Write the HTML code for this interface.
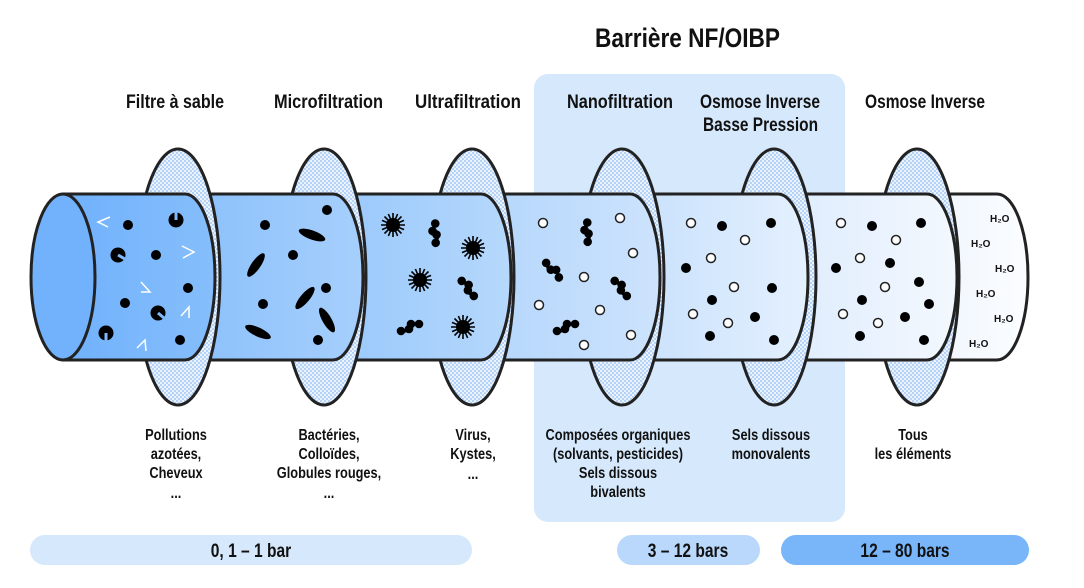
<!DOCTYPE html>
<html><head><meta charset="utf-8"><style>
html,body{margin:0;padding:0;background:#fff;}
svg{display:block;}
text{font-family:"Liberation Sans Narrow","Liberation Sans",sans-serif;font-weight:bold;fill:#111;}
</style></head><body>
<svg width="1084" height="588" viewBox="0 0 1084 588" xmlns="http://www.w3.org/2000/svg">
<defs>
<pattern id="dots" width="4" height="4" patternUnits="userSpaceOnUse">
<rect width="4" height="4" fill="#eaf2fd"/><circle cx="1" cy="1" r="0.9" fill="#8fbcf3"/><circle cx="3" cy="3" r="0.9" fill="#8fbcf3"/>
</pattern>
<linearGradient id="g1"><stop offset="0" stop-color="#70b1fc"/><stop offset="1" stop-color="#86befb"/></linearGradient>
<linearGradient id="g2"><stop offset="0" stop-color="#88bffb"/><stop offset="1" stop-color="#a6cffc"/></linearGradient>
<linearGradient id="g3"><stop offset="0" stop-color="#96c7fb"/><stop offset="1" stop-color="#b6d8fc"/></linearGradient>
<linearGradient id="g4"><stop offset="0" stop-color="#b2d5fc"/><stop offset="1" stop-color="#cde3fd"/></linearGradient>
<linearGradient id="g5"><stop offset="0" stop-color="#c6e0fc"/><stop offset="1" stop-color="#e4f0fe"/></linearGradient>
<linearGradient id="g6"><stop offset="0" stop-color="#dcebfd"/><stop offset="1" stop-color="#f3f8fe"/></linearGradient>
<linearGradient id="g7"><stop offset="0" stop-color="#eef5fe"/><stop offset="1" stop-color="#fbfdff"/></linearGradient>
<g id="virus" stroke="#000" stroke-width="1.6">
<circle r="7" fill="#000" stroke="none"/>
<line x1="0" y1="-12" x2="0" y2="12"/><line x1="-12" y1="0" x2="12" y2="0"/>
<line x1="-8.5" y1="-8.5" x2="8.5" y2="8.5"/><line x1="-8.5" y1="8.5" x2="8.5" y2="-8.5"/>
<line x1="-4.6" y1="-11" x2="4.6" y2="11"/><line x1="-11" y1="-4.6" x2="11" y2="4.6"/>
<line x1="-4.6" y1="11" x2="4.6" y2="-11"/><line x1="-11" y1="4.6" x2="11" y2="-4.6"/>
</g>
<g id="mol" fill="#000"><path d="M-9,4 L-3,4 L3,-3 L9,-3" stroke="#000" stroke-width="3" fill="none"/><circle cx="-9" cy="4" r="4.3"/><circle cx="-1" cy="2" r="4.3"/><circle cx="1" cy="-3" r="4.3"/><circle cx="9" cy="-3" r="4.3"/></g>
<g id="pac"><circle r="7.5" fill="#000"/><path d="M0,0 L0,7.6" stroke="#80b9fb" stroke-width="3"/></g>
</defs>

<rect x="534" y="74" width="311" height="448" rx="14" fill="#d6e8fc"/>

<text x="595" y="47" font-size="27" textLength="185" lengthAdjust="spacingAndGlyphs">Barrière NF/OIBP</text>

<g font-size="19">
<text x="126" y="108" textLength="98" lengthAdjust="spacingAndGlyphs">Filtre à sable</text>
<text x="274" y="108" textLength="109" lengthAdjust="spacingAndGlyphs">Microfiltration</text>
<text x="415" y="108" textLength="106" lengthAdjust="spacingAndGlyphs">Ultrafiltration</text>
<text x="567" y="108" textLength="106" lengthAdjust="spacingAndGlyphs">Nanofiltration</text>
<text x="700" y="108" textLength="120" lengthAdjust="spacingAndGlyphs">Osmose Inverse</text>
<text x="703" y="131" textLength="115" lengthAdjust="spacingAndGlyphs">Basse Pression</text>
<text x="865" y="108" textLength="120" lengthAdjust="spacingAndGlyphs">Osmose Inverse</text>
</g>

<g stroke="#222" stroke-width="3">
<path d="M917,194 H997 A31,83 0 0 1 997,360 H917 Z" fill="url(#g7)"/>
<ellipse cx="917" cy="277" rx="42" ry="128" fill="url(#dots)"/>
<path d="M770,194 H927 A30,83 0 0 1 927,360 H770 Z" fill="url(#g6)"/>
<ellipse cx="774" cy="277" rx="42" ry="128" fill="url(#dots)"/>
<path d="M620,194 H778 A30,83 0 0 1 778,360 H620 Z" fill="url(#g5)"/>
<ellipse cx="622" cy="277" rx="42" ry="128" fill="url(#dots)"/>
<path d="M470,194 H630 A30,83 0 0 1 630,360 H470 Z" fill="url(#g4)"/>
<ellipse cx="472" cy="277" rx="42" ry="128" fill="url(#dots)"/>
<path d="M320,194 H481 A30,83 0 0 1 481,360 H320 Z" fill="url(#g3)"/>
<ellipse cx="324" cy="277" rx="42" ry="128" fill="url(#dots)"/>
<path d="M170,194 H333 A30,83 0 0 1 333,360 H170 Z" fill="url(#g2)"/>
<ellipse cx="178" cy="277" rx="42" ry="128" fill="url(#dots)"/>
<path d="M63,194 H185 A30,83 0 0 1 185,360 H63 Z" fill="url(#g1)"/>
<ellipse cx="63" cy="277" rx="32" ry="83" fill="#72b2fc"/>
</g>

<g fill="#000">
<circle cx="128" cy="225" r="5"/><circle cx="156" cy="255" r="5"/><circle cx="188" cy="288" r="5"/><circle cx="125" cy="303" r="5"/><circle cx="180" cy="340" r="5"/>
</g>
<use href="#pac" transform="translate(176,220) rotate(180)"/>
<use href="#pac" transform="translate(118,255) rotate(-60)"/>
<use href="#pac" transform="translate(158,313) rotate(-50)"/>
<use href="#pac" transform="translate(106,333)"/>
<g stroke="#fff" stroke-width="1.5" fill="none">
<path d="M110,217 L98,222 L108,227"/><path d="M182,246 L194,252 L183,258"/><path d="M141,282 L150,292 L141,292"/>
<path d="M181,316 L189,307 L189,318"/><path d="M137,348 L145,340 L146,351"/>
</g>
<g fill="#000">
<circle cx="265" cy="225" r="5"/><circle cx="327" cy="210" r="5"/><circle cx="293" cy="255" r="5"/><circle cx="326" cy="288" r="5"/><circle cx="263" cy="304" r="5"/><circle cx="318" cy="340" r="5"/>
<ellipse cx="312" cy="235" rx="14" ry="4.5" transform="rotate(20 312 235)"/>
<ellipse cx="256" cy="265" rx="14" ry="4.5" transform="rotate(-55 256 265)"/>
<ellipse cx="305" cy="298" rx="14" ry="4.5" transform="rotate(-50 305 298)"/>
<ellipse cx="258" cy="332" rx="14" ry="4.5" transform="rotate(25 258 332)"/>
<ellipse cx="327" cy="320" rx="14" ry="4.5" transform="rotate(60 327 320)"/>
</g>
<use href="#virus" x="393" y="225"/><use href="#virus" x="473" y="248"/><use href="#virus" x="420" y="280"/><use href="#virus" x="463" y="327"/>
<use href="#mol" transform="translate(435,233) rotate(-70)"/>
<use href="#mol" transform="translate(468,288) rotate(30) scale(-1,1)"/>
<use href="#mol" transform="translate(410,327)"/>
<use href="#mol" transform="translate(587,232) rotate(-70)"/>
<use href="#mol" transform="translate(553,270) rotate(70)"/>
<use href="#mol" transform="translate(621,288) rotate(30) scale(-1,1)"/>
<use href="#mol" transform="translate(566,327)"/>
<g fill="#fff" stroke="#222" stroke-width="1.5">
<circle cx="543" cy="223" r="4.5"/><circle cx="620" cy="218" r="4.5"/><circle cx="633" cy="253" r="4.5"/><circle cx="584" cy="277" r="4.5"/><circle cx="539" cy="305" r="4.5"/><circle cx="600" cy="310" r="4.5"/><circle cx="631" cy="335" r="4.5"/><circle cx="584" cy="345" r="4.5"/>
<circle cx="691" cy="223" r="4.5"/><circle cx="745" cy="240" r="4.5"/><circle cx="711" cy="258" r="4.5"/><circle cx="734" cy="287" r="4.5"/><circle cx="693" cy="314" r="4.5"/><circle cx="728" cy="323" r="4.5"/>
<circle cx="841" cy="223" r="4.5"/><circle cx="896" cy="240" r="4.5"/><circle cx="860" cy="258" r="4.5"/><circle cx="885" cy="287" r="4.5"/><circle cx="843" cy="314" r="4.5"/><circle cx="878" cy="323" r="4.5"/>
</g>
<g fill="#000">
<circle cx="722" cy="226" r="5"/><circle cx="771" cy="223" r="5"/><circle cx="686" cy="268" r="5"/><circle cx="772" cy="288" r="5"/><circle cx="712" cy="300" r="5"/><circle cx="755" cy="317" r="5"/><circle cx="710" cy="336" r="5"/><circle cx="774" cy="340" r="5"/>
<circle cx="872" cy="226" r="5"/><circle cx="921" cy="223" r="5"/><circle cx="836" cy="268" r="5"/><circle cx="890" cy="263" r="5"/><circle cx="919" cy="282" r="5"/><circle cx="862" cy="300" r="5"/><circle cx="929" cy="304" r="5"/><circle cx="905" cy="317" r="5"/><circle cx="860" cy="336" r="5"/><circle cx="924" cy="340" r="5"/>
</g>
<g font-size="10">
<text x="990" y="222">H₂O</text><text x="971" y="247">H₂O</text><text x="995" y="272">H₂O</text><text x="976" y="297">H₂O</text><text x="994" y="322">H₂O</text><text x="969" y="347">H₂O</text>
</g>

<g font-size="16" text-anchor="middle">
<text transform="translate(176,440) scale(.8,1)">Pollutions</text>
<text transform="translate(176,459) scale(.8,1)">azotées,</text>
<text transform="translate(176,478) scale(.8,1)">Cheveux</text>
<text transform="translate(176,498) scale(.8,1)">...</text>
<text transform="translate(329,440) scale(.8,1)">Bactéries,</text>
<text transform="translate(329,459) scale(.8,1)">Colloïdes,</text>
<text transform="translate(329,478) scale(.8,1)">Globules rouges,</text>
<text transform="translate(329,498) scale(.8,1)">...</text>
<text transform="translate(473,440) scale(.8,1)">Virus,</text>
<text transform="translate(473,459) scale(.8,1)">Kystes,</text>
<text transform="translate(473,479) scale(.8,1)">...</text>
<text transform="translate(618,440) scale(.8,1)">Composées organiques</text>
<text transform="translate(618,459) scale(.8,1)">(solvants, pesticides)</text>
<text transform="translate(618,478) scale(.8,1)">Sels dissous</text>
<text transform="translate(618,497) scale(.8,1)">bivalents</text>
<text transform="translate(771,440) scale(.8,1)">Sels dissous</text>
<text transform="translate(771,459) scale(.8,1)">monovalents</text>
<text transform="translate(913,440) scale(.8,1)">Tous</text>
<text transform="translate(913,459) scale(.8,1)">les éléments</text>
</g>

<rect x="30" y="535" width="442" height="30" rx="15" fill="#d6e8fc"/>
<rect x="617" y="535" width="143" height="30" rx="15" fill="#b9d8fb"/>
<rect x="781" y="535" width="248" height="30" rx="15" fill="#78b6f9"/>
<g font-size="19" text-anchor="middle">
<text transform="translate(251,557) scale(.82,1)">0, 1 – 1 bar</text>
<text transform="translate(688,557) scale(.82,1)">3 – 12 bars</text>
<text transform="translate(905,557) scale(.82,1)">12 – 80 bars</text>
</g>
</svg>
</body></html>
